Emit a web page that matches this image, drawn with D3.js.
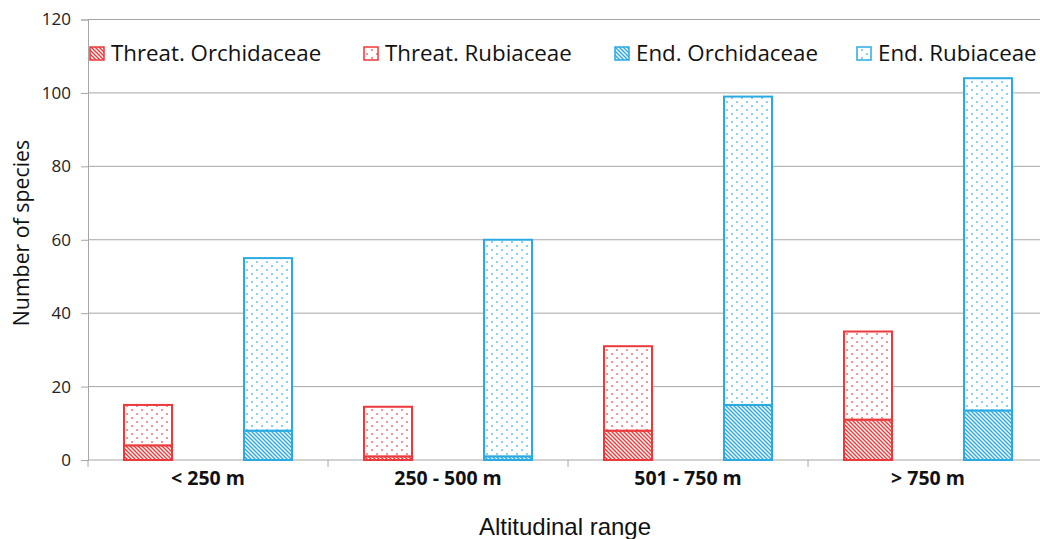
<!DOCTYPE html>
<html><head><meta charset="utf-8">
<script src="https://cdn.jsdelivr.net/npm/d3@7"></script>
<style>body{margin:0;background:#fff}svg{display:block}</style>
</head><body>
<svg id="chart" width="1040" height="539"></svg>
<script>
const categories = ["< 250 m", "250 - 500 m", "501 - 750 m", "> 750 m"];
const threatOrch = [4, 1, 8, 11];
const threatRub = [11, 13.5, 23, 24];
const endOrch = [8, 1, 15, 13.5];
const endRub = [47, 59, 84, 90.5];
const yTicks = [0, 20, 40, 60, 80, 100, 120];
const legendLabels = ["Threat. Orchidaceae", "Threat. Rubiaceae", "End. Orchidaceae", "End. Rubiaceae"];

(function () {
const RED = "#ec3a3c", BLUE = "#2aaae2", GRID = "#a6a6a6";
const svg = d3.select("#chart");
const defs = svg.append("defs");
function hatch(id, col) {
  const p = defs.append("pattern").attr("id", id).attr("patternUnits", "userSpaceOnUse")
    .attr("width", 4).attr("height", 4);
  p.append("rect").attr("width", 4).attr("height", 4).attr("fill", "#fff");
  p.append("path").attr("d", "M-1,-1L5,5M3,-1L5,1M-1,3L1,5").attr("stroke", col).attr("stroke-width", 1.4);
}
function dots(id, col) {
  const p = defs.append("pattern").attr("id", id).attr("patternUnits", "userSpaceOnUse")
    .attr("width", 10).attr("height", 8);
  p.append("rect").attr("width", 10).attr("height", 8).attr("fill", "#fff");
  p.append("circle").attr("cx", 2).attr("cy", 2).attr("r", 0.9).attr("fill", col).attr("opacity", 0.8);
  p.append("circle").attr("cx", 7).attr("cy", 6).attr("r", 0.9).attr("fill", col).attr("opacity", 0.8);
}
hatch("hRed", RED); dots("dRed", RED); hatch("hBlue", BLUE); dots("dBlue", BLUE);

const mLeft = 88, mRight = 1048, mTop = 19.5, mBottom = 460;
const x = d3.scaleBand().domain(categories).range([mLeft, mRight]).padding(0);
const groups = ["Threat", "End"];
const xs = d3.scaleBand().domain(groups).range([0, x.bandwidth()]).padding(0);
const barW = 48;
const y = d3.scaleLinear().domain([0, 120]).range([mBottom, mTop]);

svg.append("g").selectAll("line").data(yTicks.filter(d => d > 0)).join("line")
  .attr("x1", mLeft).attr("x2", 1040).attr("y1", d => y(d)).attr("y2", d => y(d))
  .attr("stroke", GRID).attr("stroke-width", 1);

const ya = svg.append("g").attr("transform", `translate(${mLeft},0)`)
  .call(d3.axisLeft(y).tickValues(yTicks).tickSize(7).tickPadding(10));
ya.select(".domain").attr("stroke", GRID);
ya.selectAll(".tick line").attr("stroke", GRID);
ya.selectAll(".tick text").attr("font-family", "Open Sans").attr("font-size", 17).attr("fill", "#222");

const xa = svg.append("g").attr("transform", `translate(0,${mBottom})`);
xa.append("line").attr("x1", mLeft).attr("x2", 1040).attr("stroke", GRID);
xa.selectAll("line.t").data(categories).join("line").attr("class", "t")
  .attr("x1", d => x(d)).attr("x2", d => x(d)).attr("y1", 0).attr("y2", 7).attr("stroke", GRID);
xa.selectAll("text").data(categories).join("text")
  .attr("x", d => x(d) + x.bandwidth() / 2).attr("y", 25).attr("text-anchor", "middle")
  .attr("font-family", "Open Sans").attr("font-weight", "bold").attr("font-size", 19.5).attr("fill", "#111")
  .text(d => d);

const rows = categories.map((c, i) => ({ cat: c, threatOrch: threatOrch[i], threatRub: threatRub[i], endOrch: endOrch[i], endRub: endRub[i] }));
const sets = [
  { g: "Threat", keys: ["threatOrch", "threatRub"], fills: ["url(#hRed)", "url(#dRed)"], col: RED },
  { g: "End", keys: ["endOrch", "endRub"], fills: ["url(#hBlue)", "url(#dBlue)"], col: BLUE }
];
sets.forEach(s => {
  const st = d3.stack().keys(s.keys)(rows);
  st.forEach((layer, li) => {
    svg.append("g").selectAll("rect").data(layer).join("rect")
      .attr("x", d => x(d.data.cat) + xs(s.g) + (xs.bandwidth() - barW) / 2)
      .attr("width", barW)
      .attr("y", d => y(d[1])).attr("height", d => y(d[0]) - y(d[1]))
      .attr("fill", s.fills[li]).attr("stroke", s.col).attr("stroke-width", 2);
  });
});

const legX = [89, 363, 614, 856];
const legFills = ["url(#hRed)", "url(#dRed)", "url(#hBlue)", "url(#dBlue)"];
const legCols = [RED, RED, BLUE, BLUE];
const lg = svg.append("g");
legendLabels.forEach((t, i) => {
  lg.append("rect").attr("x", legX[i] + 1).attr("y", 47).attr("width", 14).attr("height", 13)
    .attr("fill", legFills[i]).attr("stroke", legCols[i]).attr("stroke-width", 1.5);
  lg.append("text").attr("x", legX[i] + 22).attr("y", 61).attr("font-family", "Open Sans")
    .attr("font-size", 22.3).attr("fill", "#111").text(t);
});

svg.append("text").attr("transform", "translate(29,233) rotate(-90)").attr("text-anchor", "middle")
  .attr("font-family", "Open Sans").attr("font-size", 21.3).attr("fill", "#111").text("Number of species");
svg.append("text").attr("x", 565).attr("y", 535).attr("text-anchor", "middle")
  .attr("font-family", "Liberation Sans").attr("font-size", 24).attr("fill", "#111").text("Altitudinal range");
})();
</script>
</body></html>
